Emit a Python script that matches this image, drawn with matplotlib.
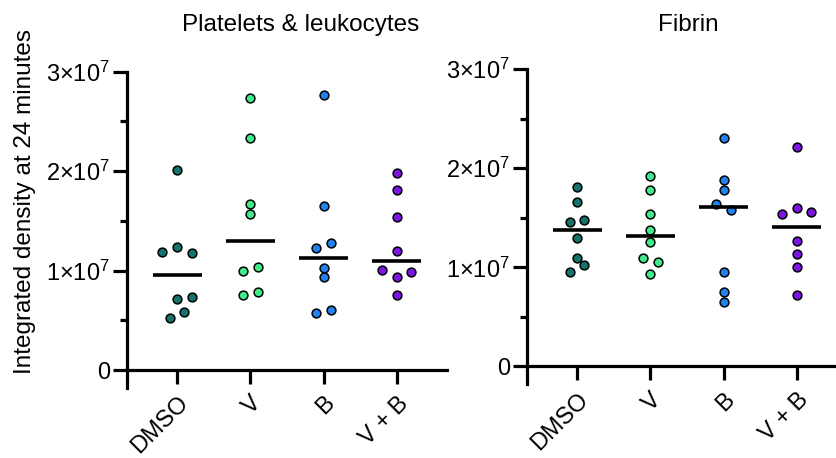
import numpy as np
import matplotlib
matplotlib.use("Agg")
import matplotlib.pyplot as plt
from matplotlib.ticker import MultipleLocator, FuncFormatter

plt.rcParams['font.family'] = ['Liberation Sans', 'DejaVu Sans']
plt.rcParams['mathtext.fontset'] = 'custom'
plt.rcParams['mathtext.rm'] = 'Liberation Sans'
plt.rcParams['mathtext.it'] = 'Liberation Sans:italic'

# data (x 1e7)
groups = ['DMSO', 'V', 'B', 'V + B']
colors = ['#14736d', '#3ded8c', '#1f82f0', '#7d14e2']

plt_dmso = [2.01, 1.19, 1.24, 1.18, 0.72, 0.74, 0.58, 0.52]
plt_v = [2.74, 2.33, 1.675, 1.565, 0.998, 1.035, 0.757, 0.784]
plt_b = [2.764, 1.655, 1.229, 1.276, 1.025, 0.935, 0.576, 0.606]
plt_vb = [1.977, 1.809, 1.538, 1.196, 1.002, 0.982, 0.935, 0.757]

fib_dmso = [1.808, 1.663, 1.461, 1.481, 1.293, 1.091, 1.020, 0.949]
fib_v = [1.925, 1.784, 1.535, 1.377, 1.259, 1.097, 1.057, 0.929]
fib_b = [2.303, 1.879, 1.781, 1.639, 1.579, 0.953, 0.754, 0.653]
fib_vb = [2.218, 1.602, 1.538, 1.558, 1.266, 1.134, 1.003, 0.717]

# horizontal scatter offsets (category units)
plt_off = [[0, -0.2, 0, 0.2, 0, 0.2, 0.1, -0.1],
           [0, 0, 0, 0, -0.1, 0.1, -0.1, 0.1],
           [0, 0, -0.1, 0.1, 0, 0, -0.1, 0.1],
           [0, 0, 0, 0, -0.2, 0.2, 0, 0]]
fib_off = [[0, 0, -0.1, 0.1, 0, 0, 0.1, -0.1],
           [0, 0, 0, 0, 0, -0.1, 0.1, 0],
           [0, 0, 0, -0.1, 0.1, 0, 0, 0],
           [0, 0, -0.2, 0.2, 0, 0, 0, 0]]

panels = [
    ('Platelets & leukocytes', [plt_dmso, plt_v, plt_b, plt_vb], plt_off),
    ('Fibrin', [fib_dmso, fib_v, fib_b, fib_vb], fib_off),
]


def sci_fmt(v, pos):
    if v == 0:
        return '0'
    return r'$%d{\times}10^{7}$' % round(v / 1e7)


fig = plt.figure(figsize=(8.37, 4.58), dpi=100)
rects = [[0.1517, 0.1528, 0.3823, 0.6906], [0.6296, 0.1609, 0.3823, 0.6884]]
title_x = [301 / 837, 688 / 837]

for (title, data, offs), rect, tx in zip(panels, rects, title_x):
    ax = fig.add_axes(rect)
    for i, (vals, off, c) in enumerate(zip(data, offs, colors)):
        y = np.array(vals) * 1e7
        x = i + np.array(off)
        ax.scatter(x, y, s=40, color=c, edgecolor='black', linewidth=1.1, zorder=3, clip_on=False)
        med = np.median(y)
        ax.hlines(med, i - 0.335, i + 0.335, color='black', linewidth=2.6, zorder=4)

    ax.set_xlim(-0.685, 3.685)
    ax.set_ylim(-1.8e6, 3e7)
    for s in ['top', 'right']:
        ax.spines[s].set_visible(False)
    ax.spines['bottom'].set_position(('data', 0))
    ax.spines['left'].set_linewidth(2.3)
    ax.spines['bottom'].set_linewidth(2.3)

    ax.yaxis.set_major_locator(MultipleLocator(1e7))
    ax.yaxis.set_major_formatter(FuncFormatter(sci_fmt))
    ax.set_yticks([5e6, 1.5e7, 2.5e7], minor=True)
    ax.tick_params(axis='y', which='major', length=10, width=2.3, labelsize=17, pad=2)
    ax.tick_params(axis='y', which='minor', length=5, width=2.3)
    ax.set_xticks(range(len(groups)))
    ax.set_xticklabels(groups, rotation=45, ha='right', rotation_mode='anchor')
    ax.tick_params(axis='x', length=10, width=2.3, labelsize=17, pad=6)

    fig.text(tx, 1 - 25 / 458, title, ha='center', va='center', fontsize=17.5)

fig.text(25 / 837, 1 - 202 / 458, 'Integrated density at 24 minutes',
         rotation=90, ha='center', va='center', fontsize=17.5)

fig.savefig('out.png', dpi=100)
